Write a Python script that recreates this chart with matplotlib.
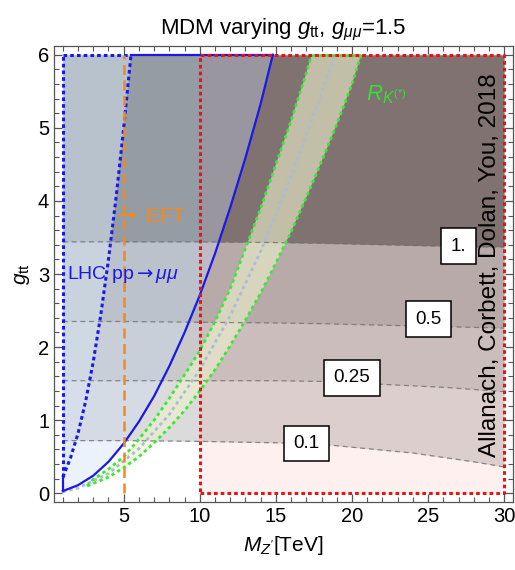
import numpy as np
import matplotlib
matplotlib.use("Agg")
import matplotlib.pyplot as plt
from matplotlib.patches import Rectangle

plt.rcParams["font.family"] = ["Liberation Sans", "DejaVu Sans"]
plt.rcParams["mathtext.fontset"] = "custom"
plt.rcParams["mathtext.rm"] = "Liberation Sans"
plt.rcParams["mathtext.it"] = "Liberation Sans:italic"
plt.rcParams["mathtext.sf"] = "DejaVu Sans"

# contour levels of the background quantity, read along common x points
contour_x = [1, 5, 10, 15, 18, 20, 22, 24, 26, 28, 30]
level_01 = [0.72, 0.72, 0.71, 0.69, 0.67, 0.63, 0.59, 0.55, 0.49, 0.43, 0.36]
level_025 = [1.54, 1.54, 1.54, 1.54, 1.53, 1.51, 1.49, 1.47, 1.45, 1.42, 1.39]
level_05 = [2.35, 2.35, 2.34, 2.33, 2.32, 2.31, 2.30, 2.29, 2.28, 2.27, 2.26]
level_1 = [3.44, 3.44, 3.44, 3.43, 3.42, 3.41, 3.40, 3.39, 3.38, 3.37, 3.37]
level_names = ["0.1", "0.25", "0.5", "1."]

# LHC pp -> mumu bounds (solid and dotted)
lhc_x = [1, 2, 3, 4, 5, 6, 7, 8, 9, 10, 11, 12, 13, 14, 14.8]
lhc_y = [0.03, 0.11, 0.24, 0.43, 0.68, 0.98, 1.33, 1.74, 2.2, 2.71, 3.28, 3.91, 4.59, 5.33, 6.0]
lhc2_x = [1, 1.5, 2, 2.5, 3, 3.5, 4, 4.5, 5, 5.48]
lhc2_y = [0.22, 0.48, 0.82, 1.26, 1.8, 2.45, 3.2, 4.05, 5.0, 6.0]

# R_K(*) band
rk_lo_x = [2.6, 3, 4, 5, 6, 7, 8, 9, 10, 11, 12, 13, 14, 15, 16, 17, 17.35]
rk_lo_y = [0.1, 0.19, 0.33, 0.5, 0.74, 1.0, 1.3, 1.62, 1.95, 2.35, 2.8, 3.35, 3.9, 4.5, 5.1, 5.75, 6.0]
rk_hi_x = [2.6, 4, 5, 6, 7, 8, 9, 10, 11, 12, 13, 14, 15, 16, 17, 18, 19, 20, 20.6]
rk_hi_y = [0.1, 0.22, 0.35, 0.5, 0.69, 0.9, 1.13, 1.4, 1.69, 2.02, 2.37, 2.74, 3.15, 3.58, 4.05, 4.54, 5.05, 5.6, 6.0]
rk_mid_x = [1, 2, 4, 6, 8, 10, 12, 14, 16, 18, 18.85]
rk_mid_y = [0.02, 0.07, 0.27, 0.61, 1.08, 1.69, 2.43, 3.31, 4.33, 5.48, 6.0]

eft_mass = 5
box_x = [10, 30]
g_max = 6

fig = plt.figure(figsize=(5.15, 5.7), dpi=100)
ax = fig.add_axes([54 / 515, 1 - 502 / 570, 459 / 515, 456 / 570])

# shaded contour bands
bands = [(level_01, level_025, 0.14), (level_025, level_05, 0.21),
         (level_05, level_1, 0.29), (level_1, [g_max] * len(contour_x), 0.52)]
for lo, hi, a in bands:
    ax.fill_between(contour_x, lo, hi, color="black", alpha=a, lw=0, zorder=1)

# red box tint
ax.add_patch(Rectangle((box_x[0], 0), box_x[1] - box_x[0], g_max, facecolor="red",
                       alpha=0.06, lw=0, zorder=2))

# LHC regions
ax.fill([1] + lhc_x + [1], [lhc_y[0]] + lhc_y + [g_max], color="#c8dcf5", alpha=0.35, lw=0, zorder=3)
ax.fill([1] + lhc2_x + [1], [lhc2_y[0]] + lhc2_y + [g_max], color="#d6e2ef", alpha=0.55, lw=0, zorder=3)

# R_K band
ax.fill(rk_lo_x + rk_hi_x[::-1], rk_lo_y + rk_hi_y[::-1], color="#eef2cc", alpha=0.6, lw=0, zorder=4)

# contour lines and labels
for lvl in [level_01, level_025, level_05, level_1]:
    ax.plot(contour_x, lvl, color="#707070", lw=0.9, alpha=0.8, dashes=(4, 3), zorder=5)

label_pos = [(17.0, 0.68), (20.0, 1.58), (25.0, 2.38), (27.0, 3.38)]
for (lx, ly), name in zip(label_pos, level_names):
    ax.text(lx, ly, name, fontsize=13.5, ha="center", va="center", zorder=9,
            bbox=dict(boxstyle="square,pad=0.5", fc="white", ec="black", lw=1.1))

# R_K lines
ax.plot(rk_mid_x, rk_mid_y, color="#a9bdd6", lw=2, ls=(0, (1.2, 1.2)), zorder=6)
ax.plot(rk_lo_x, rk_lo_y, color="#3ae83a", lw=2, ls=(0, (1.2, 1.2)), zorder=6)
ax.plot(rk_hi_x, rk_hi_y, color="#3ae83a", lw=2, ls=(0, (1.2, 1.2)), zorder=6)
ax.plot([rk_lo_x[-1], rk_hi_x[-1]], [g_max, g_max], color="#3ae83a", lw=2, ls=(0, (1.2, 1.2)), zorder=6)

# LHC lines
ax.plot(lhc_x, lhc_y, color="#1a1ae6", lw=1.6, zorder=7)
ax.plot([lhc2_x[-1], lhc_x[-1]], [g_max, g_max], color="#1a1ae6", lw=1.6, zorder=7)
ax.plot([1, 1], [lhc_y[0], lhc2_y[0]], color="#1a1ae6", lw=1.6, zorder=7)
ax.plot(lhc2_x, lhc2_y, color="#1a1ae6", lw=2.2, ls=(0, (1.2, 1.0)), zorder=7)
ax.plot([1, lhc2_x[-1]], [g_max, g_max], color="#1a1ae6", lw=2.2, ls=(0, (1.2, 1.0)), zorder=7)
ax.plot([1, 1], [lhc2_y[0], g_max], color="#1a1ae6", lw=2.2, ls=(0, (1.2, 1.0)), zorder=7)

# red box outline
ax.plot([box_x[0], box_x[1], box_x[1], box_x[0], box_x[0]], [0, 0, g_max, g_max, 0],
        color="#ee1111", lw=2.2, ls=(0, (1.2, 1.0)), zorder=8)

# EFT line
ax.plot([eft_mass, eft_mass], [0, g_max], color="#f28a1e", lw=1.8, dashes=(4, 2.2), zorder=8)

ax.text(4.4, 3.78, r"$\mathsf{\rightarrow}$ EFT", color="#f28a1e", fontsize=15, ha="left", va="center", zorder=9)
ax.text(1.25, 2.99, r"LHC pp$\mathsf{\rightarrow}\mu\mu$", color="#1a1ae6", fontsize=14, ha="left", va="center", zorder=9)
ax.text(20.9, 5.45, r"$R_{K^{(*)}}$", color="#33e033", fontsize=16, ha="left", va="center", zorder=9)
ax.text(29.1, 3.12, "Allanach, Corbett, Dolan, You, 2018", rotation=90, fontsize=17.5,
        ha="center", va="center", zorder=9)

ax.set_xlim(0.42, 30.58)
ax.set_ylim(-0.12, 6.12)
ax.set_xticks([5, 10, 15, 20, 25, 30])
ax.set_xticks(np.arange(1, 31, 1), minor=True)
ax.set_yticks([0, 1, 2, 3, 4, 5, 6])
ax.set_yticks(np.arange(0, 6.01, 0.2), minor=True)
ax.tick_params(which="both", direction="in", top=True, right=True, color="#555555", labelsize=14.5)
ax.tick_params(which="major", length=6, width=0.9)
ax.tick_params(which="minor", length=3.5, width=0.8)
for s in ax.spines.values():
    s.set_color("#555555")
    s.set_linewidth(0.9)

ax.set_xlabel(r"$M_{Z'}$[TeV]", fontsize=15, labelpad=6)
ax.set_ylabel(r"$g_{\rm tt}$", fontsize=15, labelpad=4)
ax.set_title(r"MDM varying $g_{\rm tt}$, $g_{\mu\mu}$=1.5", fontsize=16, pad=8)

fig.savefig("out.png", dpi=100)
